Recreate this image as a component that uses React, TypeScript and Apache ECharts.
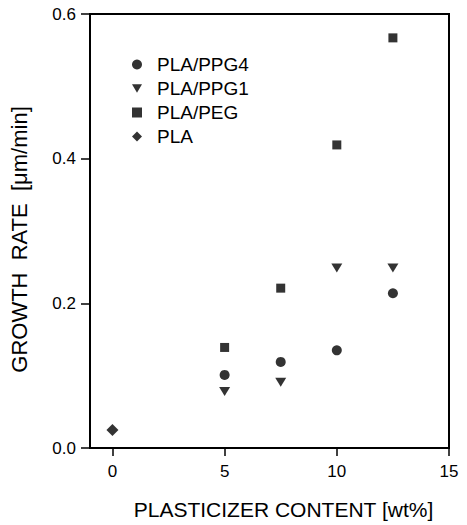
import React, { useEffect, useRef } from "react";
import * as echarts from "echarts";

const seriesNames = ["PLA/PPG4", "PLA/PPG1", "PLA/PEG", "PLA"];
const contentPPG4 = [5, 7.5, 10, 12.5];
const ratePPG4 = [0.101, 0.119, 0.135, 0.214];
const contentPPG1 = [5, 7.5, 10, 12.5];
const ratePPG1 = [0.078, 0.091, 0.249, 0.249];
const contentPEG = [5, 7.5, 10, 12.5];
const ratePEG = [0.139, 0.221, 0.419, 0.567];
const contentPLA = [0];
const ratePLA = [0.025];
const xTicks = [0, 5, 10, 15];

const pair = (xs: number[], ys: number[]) => xs.map((x, i) => [x, ys[i]]);

const downTriangle = "path://M0,0 L12,0 L6,10 Z";

export default function App() {
  const ref = useRef<HTMLDivElement>(null);
  useEffect(() => {
    if (!ref.current) return;
    const chart = echarts.init(ref.current, null, { renderer: "svg" });
    const font = "Liberation Sans, Arial, sans-serif";
    chart.setOption({
      animation: false,
      backgroundColor: "#fff",
      textStyle: { fontFamily: font, color: "#000" },
      grid: {
        left: 87,
        right: 18,
        top: 14,
        bottom: 66,
        show: true,
        borderColor: "#000",
        borderWidth: 2,
      },
      legend: {
        orient: "vertical",
        left: 127,
        top: 50,
        itemWidth: 10,
        itemHeight: 10,
        itemGap: 5,
        textStyle: { fontSize: 19, color: "#000", fontFamily: font, padding: [0, 0, 0, 10] },
        data: seriesNames,
      },
      xAxis: {
        type: "value",
        min: -1,
        max: 15,
        name: "PLASTICIZER CONTENT [wt%]",
        nameLocation: "middle",
        nameGap: 51,
        nameTextStyle: { fontSize: 21, color: "#000", padding: [0, 0, 0, 28] },
        axisLine: { show: true, onZero: false, lineStyle: { color: "#000", width: 2 } },
        axisTick: { show: true, inside: false, length: 8, customValues: xTicks, lineStyle: { color: "#000", width: 1.5 } },
        axisLabel: { customValues: xTicks, fontSize: 17, color: "#000", margin: 15 },
        splitLine: { show: false },
      },
      yAxis: {
        type: "value",
        min: 0,
        max: 0.6,
        interval: 0.2,
        name: "GROWTH  RATE  [\u03bcm/min]",
        nameLocation: "middle",
        nameGap: 60,
        nameTextStyle: { fontSize: 22, color: "#000", padding: [0, 17, 0, 0] },
        axisLine: { show: true, onZero: false, lineStyle: { color: "#000", width: 2 } },
        axisTick: { show: true, inside: false, length: 9, lineStyle: { color: "#000", width: 1.5 } },
        axisLabel: { fontSize: 17, color: "#000", margin: 14, formatter: (v: number) => v.toFixed(1) },
        splitLine: { show: false },
      },
      series: [
        {
          name: seriesNames[0],
          type: "scatter",
          symbol: "circle",
          symbolSize: 10,
          itemStyle: { color: "#000" },
          data: pair(contentPPG4, ratePPG4),
        },
        {
          name: seriesNames[1],
          type: "scatter",
          symbol: downTriangle,
          symbolSize: [11, 9],
          itemStyle: { color: "#000" },
          data: pair(contentPPG1, ratePPG1),
        },
        {
          name: seriesNames[2],
          type: "scatter",
          symbol: "rect",
          symbolSize: 9,
          itemStyle: { color: "#000" },
          data: pair(contentPEG, ratePEG),
        },
        {
          name: seriesNames[3],
          type: "scatter",
          symbol: "diamond",
          symbolSize: 12,
          itemStyle: { color: "#000" },
          data: pair(contentPLA, ratePLA),
        },
      ],
    });
    return () => chart.dispose();
  }, []);
  return (
    <div
      ref={ref}
      style={{ position: "absolute", left: 0, top: 0, width: 467, height: 525 }}
    />
  );
}
